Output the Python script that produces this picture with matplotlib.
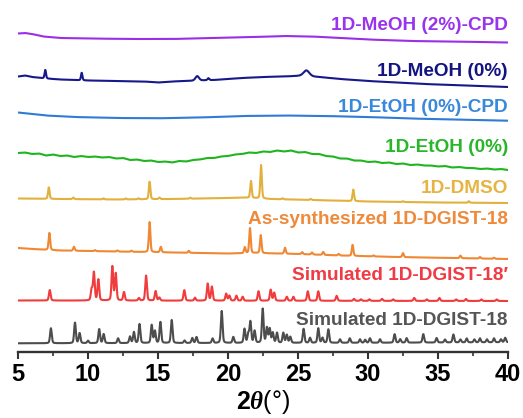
import matplotlib
matplotlib.use("Agg")
import matplotlib.pyplot as plt
import numpy as np
from matplotlib.ticker import MultipleLocator

plt.rcParams['font.family'] = ['Liberation Sans', 'DejaVu Sans']
plt.rcParams['mathtext.fontset'] = 'custom'
plt.rcParams['mathtext.bf'] = 'Liberation Sans:bold'
plt.rcParams['mathtext.it'] = 'Liberation Serif:italic:bold'

# ---- data (2theta in deg, intensity in arb. units) ----
labels = ["1D-MeOH (2%)-CPD", "1D-MeOH (0%)", "1D-EtOH (0%)-CPD", "1D-EtOH (0%)",
          "1D-DMSO", "As-synthesized 1D-DGIST-18", "Simulated 1D-DGIST-18\u2032",
          "Simulated 1D-DGIST-18"]

# backgrounds (2theta, level)
meoh_cpd_bg_x = [5, 5.5, 6, 6.8, 8, 10, 13, 16, 19, 22, 24, 26, 28, 30, 33, 36, 40]
meoh_cpd_bg_y = [0, 0.5, -0.5, -3, -4.5, -5, -5.5, -5.5, -4.5, -3.5, -2.5, -3, -4.5, -6, -7.5, -8, -9]

meoh_bg_x = [5, 5.5, 6, 7, 8, 10, 12, 14, 15, 16, 17, 19, 21, 22.5, 24, 25, 26.5, 28, 30, 32, 34, 36, 38, 40]
meoh_bg_y = [0, 1, -0.5, -2, -3, -4, -4.5, -5, -6, -5, -4.5, -3.5, -1.5, -0.5, 0, 0.5, -0.5, -2.5,
             -4.5, -6, -7.5, -8.5, -9.5, -10.5]
meoh_pk_x = [6.95, 9.55, 17.8, 18.6, 25.6]
meoh_pk_h = [8.5, 7.5, 4.5, 2, 6]
meoh_pk_w = [0.12, 0.12, 0.3, 0.15, 0.5]

etoh_cpd_bg_x = [5, 6, 7, 9, 12, 15, 18, 21, 24, 27, 30, 33, 36, 40]
etoh_cpd_bg_y = [0, -1.5, -3, -4.5, -5.5, -5.8, -5, -3.5, -3, -3.5, -4.5, -6, -7, -8.2]

etoh_bg_x = list(np.arange(5, 40.01, 0.5))
etoh_bg_y = [0, 0.5, -1, -0.5, -2.5, -1.5, -3, -2.5, -4, -3, -4, -3.5, -4.5, -4, -5.5, -5,
             -7, -6.5, -8, -7.5, -9, -8.5, -9.5, -8, -8.5, -7, -6.5, -5, -5, -3.5, -3, -1.5,
             -1, 0.5, 0, 1.5, 1, 2.5, 1.5, 2.5, 0.5, 1, -1, -1, -3, -3.5, -5.5, -5.5, -7.5,
             -7.5, -9, -8.5, -10, -9.5, -11, -10.5, -12, -11.5, -12.5, -12.5, -13.5, -13,
             -14.5, -14, -15, -15, -16, -15.5, -16.5, -16, -17]

dmso_bg_x = [5, 8, 12, 16, 20, 21, 23, 26, 30, 35, 40]
dmso_bg_y = [0, -0.5, -1, -0.5, 0.5, 1, -0.5, -1.5, -3, -4, -4.5]
dmso_pk_x = [7.2, 8.95, 11.1, 12.7, 13.6, 14.4, 15.1, 17.3, 21.64, 22.36, 23.9, 25.9, 28.95, 32.5, 37.2]
dmso_pk_h = [11.5, 1.5, 1, 1, 1, 17.5, 1.5, 1, 17, 33.5, 1, 1, 11.5, 0.8, 1.5]

asyn_bg_x = [5, 6, 8, 12, 16, 20, 22, 25, 28, 32, 36, 40]
asyn_bg_y = [0, -1, -2.5, -3.5, -4.5, -5.5, -5, -6, -7.5, -9, -10, -11]
asyn_pk_x = [7.24, 9.0, 10.5, 12.1, 13.1, 14.4, 15.2, 17.2, 21.2, 21.57, 22.34, 24.07, 25.3,
             26.0, 26.8, 27.9, 28.9, 30.4, 32.5, 36.6, 38.0, 39.0]
asyn_pk_h = [17, 4, 1, 1, 1, 30, 5.5, 2, 6, 25, 18, 6, 2, 2, 3, 1.5, 11, 1, 4, 2.5, 1.5, 1]

sim2_bg_x = [5, 40]
sim2_bg_y = [0, -0.5]
sim2_pk_x = [7.27, 10.26, 10.42, 10.74, 11.74, 11.98, 12.57, 13.64, 14.15, 14.83, 15.1, 16.88,
             17.64, 18.55, 18.85, 19.87, 20.1, 20.6, 21.05, 22.18, 23.05, 23.3, 24.2, 24.67,
             25.7, 26.45, 27.76, 29.0, 29.5, 30.1, 31.0, 31.8, 33.3, 34.2, 35.1, 36.3, 37.0,
             38.1, 39.2]
sim2_pk_h = [10.5, 11, 28, 21, 34, 27, 8.5, 2.5, 25, 9.5, 3, 10.5, 3, 17, 14, 7, 5, 5, 4,
             9.5, 11, 8, 4, 4, 9.5, 9.5, 5, 2, 1.5, 1.5, 2, 1.5, 3, 1.5, 3, 1.5, 2, 1.5, 1.5]

sim1_bg_x = [5, 30, 40]
sim1_bg_y = [0, 0.5, 1]
sim1_pk_x = [7.35, 9.07, 9.4, 10.0, 10.8, 11.12, 12.15, 13.0, 13.28, 13.68, 14.55, 14.78, 15.17,
             15.98, 16.9, 17.45, 17.75, 18.9, 19.55, 20.38, 21.18, 21.45, 21.6, 21.9, 22.48,
             22.78, 22.98, 23.2, 23.5, 23.95, 24.2, 24.45, 25.4, 25.86, 26.45, 26.75, 27.17,
             28.0, 28.7, 29.43, 29.8, 30.14, 30.86, 31.9, 32.3, 32.76, 33.95, 34.9, 35.5, 36.1,
             36.6, 37.05, 37.6, 38.0, 38.5, 39.0, 39.5, 39.8]
sim1_pk_h = [15, 20.5, 10, 2.5, 14, 9, 4.8, 6.5, 11, 19, 18, 12, 21, 23, 2.5, 5, 6, 4.5, 32,
             6, 14, 9, 21, 12, 34, 15, 14, 10, 10, 10, 8, 6, 14, 5, 14.5, 5, 13.5, 3.5, 4.5,
             3.5, 3, 4.5, 3.5, 8.5, 3.5, 4.5, 8.5, 4.5, 3, 8, 3, 4, 3, 4, 3, 4, 3, 4.5]

# ---- layout / style ----
offsets = [318.5, 275.5, 239.5, 199, 153.5, 104, 51.5, 8.7]
label_y = [322, 276, 240.3, 199.8, 159.3, 127.7, 72, 27]
colors = ['#9a2fe6', '#17188a', '#2f7bd6', '#1fb51f', '#e2b03c', '#ef8833', '#f03c3c', '#4d4d4d']
text_colors = ['#9933ee', '#141480', '#3a88da', '#2bb52b', '#e5b443', '#ee8a3a', '#ef3c44', '#555555']

tt = np.arange(5, 40.0001, 0.01)


def pattern(bg_x, bg_y, pk_x=(), pk_h=(), w=0.12):
    y = np.interp(tt, bg_x, bg_y)
    if np.isscalar(w):
        w = [w] * len(pk_x)
    for p, h, fw in zip(pk_x, pk_h, w):
        g = np.exp(-4 * np.log(2) * ((tt - p) / fw) ** 2)
        l = 1 / (1 + 4 * ((tt - p) / fw) ** 2)
        y += h * (0.7 * g + 0.3 * l)
    return y


curves = [
    pattern(meoh_cpd_bg_x, meoh_cpd_bg_y),
    pattern(meoh_bg_x, meoh_bg_y, meoh_pk_x, meoh_pk_h, meoh_pk_w),
    pattern(etoh_cpd_bg_x, etoh_cpd_bg_y),
    pattern(etoh_bg_x, etoh_bg_y),
    pattern(dmso_bg_x, dmso_bg_y, dmso_pk_x, dmso_pk_h, 0.13),
    pattern(asyn_bg_x, asyn_bg_y, asyn_pk_x, asyn_pk_h, 0.13),
    pattern(sim2_bg_x, sim2_bg_y, sim2_pk_x, sim2_pk_h, 0.14),
    pattern(sim1_bg_x, sim1_bg_y, sim1_pk_x, sim1_pk_h, 0.14),
]

fig = plt.figure(figsize=(5.23, 4.18), dpi=100)
ax = fig.add_axes([18 / 523, 66 / 418, 490 / 523, 352 / 418])

for i in range(len(curves)):
    ax.plot(tt, curves[i] + offsets[i], color=colors[i], lw=1.5)
    ax.text(40, label_y[i], labels[i], color=text_colors[i], fontsize=13.7,
            fontweight='bold', ha='right', va='baseline')

ax.set_xlim(5, 40)
ax.set_ylim(0, 352)
for s in ['left', 'right', 'top']:
    ax.spines[s].set_visible(False)
ax.spines['bottom'].set_linewidth(1.7)
ax.spines['bottom'].set_color('#333333')
ax.set_yticks([])
ax.xaxis.set_major_locator(MultipleLocator(5))
ax.xaxis.set_minor_locator(MultipleLocator(2.5))
ax.tick_params(axis='x', which='major', length=5, width=1.5, color='#333333',
               labelsize=17, pad=3)
ax.tick_params(axis='x', which='minor', length=3, width=1.2, color='#333333')
for t in ax.get_xticklabels():
    t.set_fontweight('bold')
ax.set_xlabel(r'$\mathbf{2}\mathit{\theta}$(°)', fontsize=18, labelpad=1)

fig.savefig("out.png", dpi=100)
